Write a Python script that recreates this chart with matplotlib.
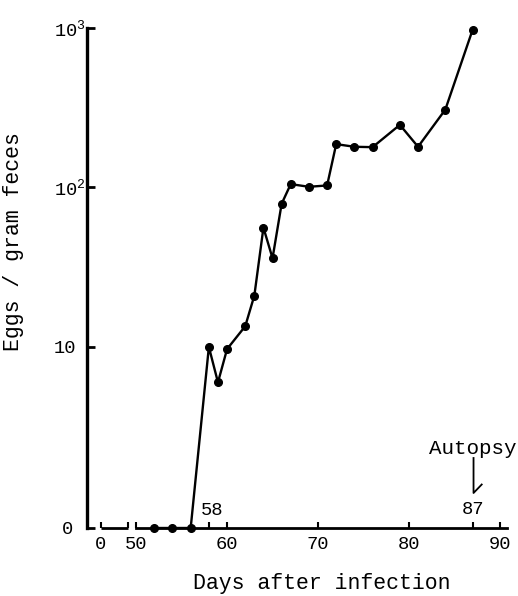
import numpy as np
import matplotlib
matplotlib.use("Agg")
import matplotlib.pyplot as plt

# typewriter look
plt.rcParams['font.family'] = ['Liberation Mono', 'DejaVu Sans Mono']
plt.rcParams['mathtext.fontset'] = 'custom'
plt.rcParams['mathtext.rm'] = 'Liberation Mono'
plt.rcParams['mathtext.it'] = 'Liberation Mono'

# ---------------- data ----------------
days = [52, 54, 56, 58, 59, 60, 62, 63, 64, 65, 66, 67, 69, 71, 72, 74, 76, 79, 81, 84, 87]
eggs = [0, 0, 0, 10, 6, 9.7, 13.5, 21, 56, 36, 79, 105, 101, 103, 187, 180, 179, 247, 180, 308, 975]

y_ticks = [0, 10, 100, 1000]
y_labels = ['0', '10', r'$\mathregular{10^{2}}$', r'$\mathregular{10^{3}}$']

x_ticks = [46.1, 49.1, 50, 58, 60, 70, 80, 87, 90]
x_labels = ['0', '', '50', '', '60', '70', '80', '', '90']

# ---------------- scale: log above 1, zero placed just under ----------------
Y0 = 0.135


def fwd(v):
    v = np.asarray(v, dtype=float)
    return np.where(v >= 1, np.log10(np.maximum(v, 1)), -Y0 + Y0 * v)


def inv(y):
    y = np.asarray(y, dtype=float)
    return np.where(y >= 0, 10 ** np.clip(y, -10, 10), (y + Y0) / Y0)


fig = plt.figure(figsize=(5.18, 5.96), dpi=100)
ax = fig.add_axes([87 / 518, 68 / 596, 422 / 518, 500 / 596])

ax.set_yscale('function', functions=(fwd, inv))
ax.set_xlim(44.6, 91)
ax.set_ylim(0, 1000)

# ---------------- data line ----------------
ax.plot(days, eggs, color='black', lw=1.7, marker='o', ms=5.5, clip_on=False, zorder=3)

# ---------------- axes ----------------
for s in ['top', 'right']:
    ax.spines[s].set_visible(False)
ax.spines['left'].set_linewidth(2.4)
ax.spines['bottom'].set_linewidth(2.0)
ax.spines['bottom'].set_bounds(50, 90.8)

# short broken piece for day 0
ax.plot([46.1, 49.1], [0, 0], color='black', lw=2.0, clip_on=False, solid_capstyle='butt')

ax.set_yticks(y_ticks)
ax.set_yticklabels(y_labels)
ax.minorticks_off()
ax.tick_params(axis='y', direction='in', length=6, width=2, labelsize=13.5, pad=8)
yt = ax.yaxis.get_major_ticks()
yt[0].set_pad(10)
yt[2].set_pad(1)
yt[3].set_pad(1)

ax.set_xticks(x_ticks)
ax.set_xticklabels(x_labels)
ax.tick_params(axis='x', direction='in', length=4, width=1.5, labelsize=13.5, pad=6)

# labels above the axis
ax.text(58.3, 0.035, '58', transform=ax.get_xaxis_transform(), ha='center', va='center', fontsize=13.5)
ax.text(87, 0.038, '87', transform=ax.get_xaxis_transform(), ha='center', va='center', fontsize=13.5)

# autopsy marker
ax.text(87, 0.16, 'Autopsy', transform=ax.get_xaxis_transform(), ha='center', va='center', fontsize=15)
ax.plot([87.1, 87.1, 88.0], [0.14, 0.07, 0.087], color='black', lw=1.3,
        transform=ax.get_xaxis_transform())

# axis titles
ax.set_xlabel('Days after infection', fontsize=15.5)
ax.xaxis.set_label_coords(0.557, -0.09)
ax.set_ylabel('Eggs / gram feces', fontsize=15.5)
ax.yaxis.set_label_coords(-0.15, 0.572)

fig.savefig('out.png', dpi=100)
